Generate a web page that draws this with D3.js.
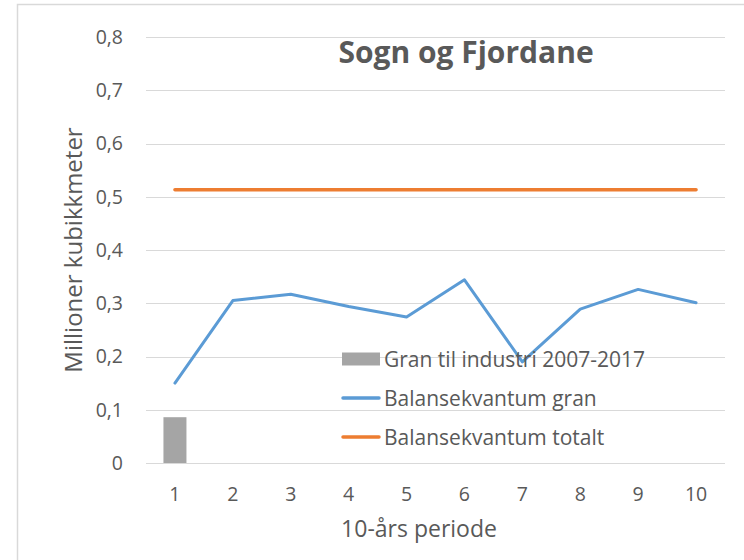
<!DOCTYPE html>
<html>
<head>
<meta charset="utf-8">
<script src="https://cdn.jsdelivr.net/npm/d3@7"></script>
<style>
  body { margin: 0; background: #fff; }
  text { font-family: "Open Sans", sans-serif; fill: #595959; }
</style>
</head>
<body>
<div id="chart"></div>
<script>
// periods on the x axis
var periods = ["1", "2", "3", "4", "5", "6", "7", "8", "9", "10"];
// Gran til industri 2007-2017 (only period 1 has a bar)
var granIndustri = [0.086, null, null, null, null, null, null, null, null, null];
// Balansekvantum gran
var balGran = [0.150, 0.305, 0.317, 0.294, 0.274, 0.344, 0.190, 0.289, 0.326, 0.301];
// Balansekvantum totalt
var balTotalt = [0.513, 0.513, 0.513, 0.513, 0.513, 0.513, 0.513, 0.513, 0.513, 0.513];
var yTicks = [0, 0.1, 0.2, 0.3, 0.4, 0.5, 0.6, 0.7, 0.8];
var legendNames = ["Gran til industri 2007-2017", "Balansekvantum gran", "Balansekvantum totalt"];

var W = 744, H = 560;
var margin = {top: 37, right: 19, bottom: 97, left: 146};
var width = W - margin.left - margin.right;
var height = H - margin.top - margin.bottom;

var grey = "#a5a5a5", blue = "#5b9bd5", orange = "#ed7d31";

var svg = d3.select("#chart")
    .append("svg")
    .attr("width", W)
    .attr("height", H);

// chart frame
svg.append("rect")
    .attr("x", 17.5).attr("y", 4.5)
    .attr("width", 760).attr("height", 600)
    .attr("fill", "none")
    .attr("stroke", "#d9d9d9")
    .attr("stroke-width", 1.5);

var g = svg.append("g")
    .attr("transform", "translate(" + margin.left + "," + margin.top + ")");

var x = d3.scaleBand().domain(periods).range([0, width]);
var y = d3.scaleLinear().domain([0, 0.8]).range([height, 0]);

// gridlines
g.selectAll(".grid")
    .data(yTicks)
    .enter().append("line")
    .attr("x1", 0).attr("x2", width)
    .attr("y1", function(d) { return Math.round(y(d)) + 0.5; })
    .attr("y2", function(d) { return Math.round(y(d)) + 0.5; })
    .attr("stroke", "#d9d9d9")
    .attr("stroke-width", 1);

// y axis labels
var fmt = function(d) { return d === 0 ? "0" : d3.format(".1f")(d).replace(".", ","); };
var yAxis = g.append("g")
    .call(d3.axisLeft(y).tickValues(yTicks).tickFormat(fmt).tickSize(0).tickPadding(23));
yAxis.select(".domain").remove();
yAxis.selectAll("text")
    .attr("font-size", 19.5)
    .attr("font-family", "Open Sans, sans-serif")
    .attr("fill", "#595959");

// x axis labels
var xAxis = g.append("g")
    .attr("transform", "translate(0," + height + ")")
    .call(d3.axisBottom(x).tickSize(0).tickPadding(24));
xAxis.select(".domain").remove();
xAxis.selectAll("text")
    .attr("font-size", 19.5)
    .attr("font-family", "Open Sans, sans-serif")
    .attr("fill", "#595959");

// bars
var barW = 23;
g.selectAll(".bar")
    .data(periods.map(function(p, i) { return {p: p, v: granIndustri[i]}; })
        .filter(function(d) { return d.v != null; }))
    .enter().append("rect")
    .attr("x", function(d) { return x(d.p) + x.bandwidth() / 2 - barW / 2; })
    .attr("y", function(d) { return y(d.v); })
    .attr("width", barW)
    .attr("height", function(d) { return height - y(d.v); })
    .attr("fill", grey);

var line = d3.line()
    .x(function(d, i) { return x(periods[i]) + x.bandwidth() / 2; })
    .y(function(d) { return y(d); });

g.append("path")
    .datum(balTotalt)
    .attr("d", line)
    .attr("fill", "none")
    .attr("stroke", orange)
    .attr("stroke-width", 3.5)
    .attr("stroke-linecap", "round");

g.append("path")
    .datum(balGran)
    .attr("d", line)
    .attr("fill", "none")
    .attr("stroke", blue)
    .attr("stroke-width", 3)
    .attr("stroke-linecap", "round")
    .attr("stroke-linejoin", "round");

// title
svg.append("text")
    .attr("x", 466).attr("y", 63)
    .attr("text-anchor", "middle")
    .attr("font-size", 30)
    .attr("font-weight", "bold")
    .text("Sogn og Fjordane");

// axis titles
svg.append("text")
    .attr("transform", "translate(82,250) rotate(-90)")
    .attr("text-anchor", "middle")
    .attr("font-size", 24)
    .text("Millioner kubikkmeter");

svg.append("text")
    .attr("x", 419).attr("y", 537)
    .attr("text-anchor", "middle")
    .attr("font-size", 23)
    .text("10-års periode");

// legend
var legend = svg.append("g").attr("transform", "translate(342,359)");
var lg = legend.selectAll(".item")
    .data(legendNames)
    .enter().append("g")
    .attr("transform", function(d, i) { return "translate(0," + i * 39 + ")"; });

lg.each(function(d, i) {
    var s = d3.select(this);
    if (i === 0) {
        s.append("rect").attr("x", 0).attr("y", -6.5).attr("width", 38).attr("height", 13).attr("fill", grey);
    } else {
        s.append("line").attr("x1", 1).attr("x2", 37).attr("y1", 0).attr("y2", 0)
            .attr("stroke", i === 1 ? blue : orange)
            .attr("stroke-width", 3.5)
            .attr("stroke-linecap", "round");
    }
});
lg.append("text")
    .attr("x", 42).attr("y", 8)
    .attr("font-size", 21)
    .text(function(d) { return d; });
</script>
</body>
</html>
